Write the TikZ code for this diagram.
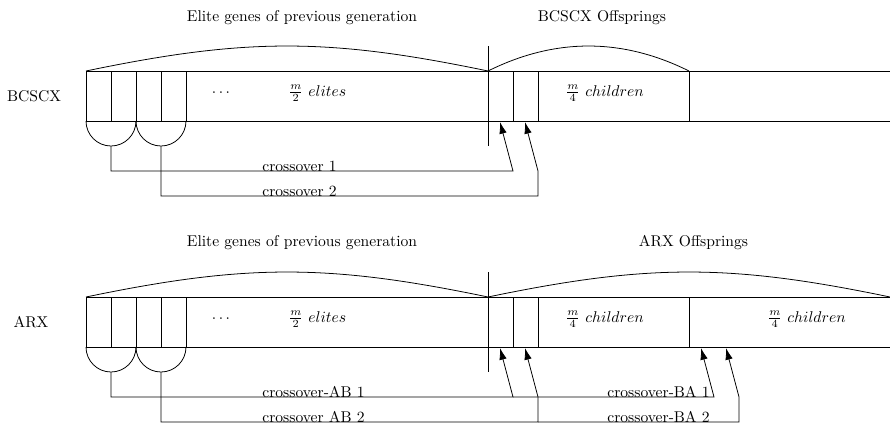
\documentclass[tikz,border=0pt]{standalone}
\usepackage{fontspec}
\usetikzlibrary{arrows.meta}
\begin{document}
\begin{tikzpicture}[x=0.641pt,y=-0.641pt,line width=0.5pt,
  lbl/.style={inner sep=0pt,anchor=base},
  lblw/.style={inner sep=0pt,anchor=base west},
  side/.style={inner sep=0pt,anchor=center},
  arr/.style={-{Latex[length=7.5pt,width=4.8pt]}}]
\useasboundingbox (0,0) rectangle (890,426);
\def\rr{16.025pt}

% ---------------- top: BCSCX ----------------
\node[lbl] (t1) at (302,21) {Elite genes of previous generation};
\node[lbl] (t2) at (602,21) {BCSCX Offsprings};
\node[side] (t3) at (34,96) {BCSCX};
\node[lbl] (td) at (221,96) {$\cdots$};
\node[lblw] (te) at (288,96) {$\frac{m}{2}~elites$};
\node[lblw] (tc) at (565,96) {$\frac{m}{4}~children$};

\draw (86,71) -- (890,71);
\draw (86,121) -- (890,121);
\foreach \x in {86,111,136,161,186,513,538,689} \draw (\x,71) -- (\x,121);
\draw (488,46) -- (488,146);
\draw (86,121) arc[start angle=180,end angle=360,radius=\rr];
\draw (136,121) arc[start angle=180,end angle=360,radius=\rr];
\draw (86,71) .. controls (246,37.7) and (328,37.7) .. (488,71);
\draw (488,71) .. controls (555,37.7) and (622,37.7) .. (689,71);

\coordinate (ta) at (111,146);
\coordinate (tb) at (161,146);
\coordinate (ta1) at (513,171);
\coordinate (tb1) at (538,196);
\coordinate (tb2) at (538,171);
\coordinate (tx1) at (500,122);
\coordinate (tx2) at (525,122);
\draw[arr] (ta) |- (ta1) -- (tx1);
\draw[arr] (tb) |- (tb1) -- (tb2) -- (tx2);
\node[lblw] (tl1) at (262,171) {crossover 1};
\node[lblw] (tl2) at (262,196) {crossover 2};

% ---------------- bottom: ARX ----------------
\node[lbl] (b1) at (302,246.7) {Elite genes of previous generation};
\node[lbl] (b2) at (693.5,246.7) {ARX Offsprings};
\node[side] (b3) at (31,322) {ARX};
\node[lbl] (bd) at (221,322) {$\cdots$};
\node[lblw] (be) at (288,322) {$\frac{m}{2}~elites$};
\node[lblw] (bc) at (565,322) {$\frac{m}{4}~children$};
\node[lblw] (bc2) at (767,322) {$\frac{m}{4}~children$};

\draw (86,297) -- (890,297);
\draw (86,347) -- (890,347);
\foreach \x in {86,111,136,161,186,513,538,689} \draw (\x,297) -- (\x,347);
\draw (488,272) -- (488,372);
\draw (86,347) arc[start angle=180,end angle=360,radius=\rr];
\draw (136,347) arc[start angle=180,end angle=360,radius=\rr];
\draw (86,297) .. controls (246,263.7) and (328,263.7) .. (488,297);
\draw (488,297) .. controls (648,263.7) and (730,263.7) .. (890,297);

\coordinate (ba) at (111,372);
\coordinate (bb) at (161,372);
\coordinate (ba1) at (513,397);
\coordinate (bb1) at (538,422);
\coordinate (bb2) at (538,397);
\coordinate (bx1) at (500,348);
\coordinate (bx2) at (525,348);
\coordinate (bc1a) at (714,397);
\coordinate (bc2a) at (739,422);
\coordinate (bc2b) at (739,397);
\coordinate (bx3) at (701,348);
\coordinate (bx4) at (726,348);
\draw[arr] (ba) |- (ba1) -- (bx1);
\draw[arr] (bb) |- (bb1) -- (bb2) -- (bx2);
\draw[arr] (ba1) -- (bc1a) -- (bx3);
\draw[arr] (bb1) -- (bc2a) -- (bc2b) -- (bx4);
\node[lblw] (bl1) at (262,397) {crossover-AB 1};
\node[lblw] (bl2) at (262,422) {crossover AB 2};
\node[lblw] (bl3) at (607,397) {crossover-BA 1};
\node[lblw] (bl4) at (607,422) {crossover-BA 2};
\end{tikzpicture}
\end{document}
